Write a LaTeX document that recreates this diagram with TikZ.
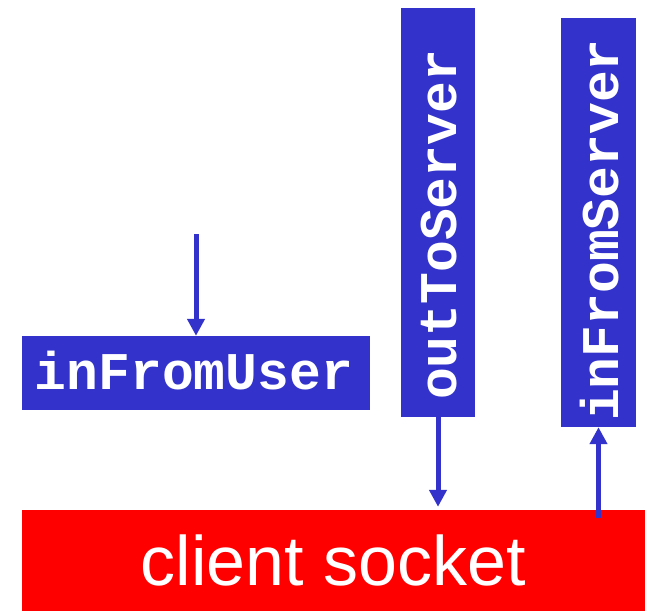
\documentclass[tikz,border=0pt]{standalone}
\usepackage{fontspec}
\setmainfont{Liberation Sans}
\newfontfamily\codefont{Liberation Mono}
\usetikzlibrary{arrows.meta}
\definecolor{sockblue}{HTML}{3333CC}
\definecolor{sockred}{HTML}{FF0000}
\begin{document}
\begin{tikzpicture}[x=1pt,y=-1pt,
  streambox/.style={fill=sockblue, draw=none, inner sep=0pt},
  streamtext/.style={text=white, inner sep=0pt, font=\codefont\bfseries\fontsize{53}{60}\selectfont},
  flow/.style={draw=sockblue, line width=5pt, -{Triangle[width=17pt,length=17pt]}}]
\useasboundingbox (0,0) rectangle (647,611);
% boxes
\node[streambox, minimum width=348pt, minimum height=74pt] (ifu) at (196,373) {};
\node[streamtext] (ifut) at (194,371) {inFromUser};
\node[streambox, minimum width=74pt, minimum height=409pt] (ots) at (438,212.5) {};
\node[streamtext, rotate=90] (otst) at (439,225) {outToServer};
\node[streambox, minimum width=75pt, minimum height=409pt] (ifs) at (598.5,222.5) {};
\node[streamtext, rotate=90] (ifst) at (600,230) {inFromServer};
\node[fill=sockred, inner sep=0pt, minimum width=623pt, minimum height=101pt,
      text=white, font=\fontsize{70}{80}\selectfont] (sock) at (333.5,560.5) {client socket};
% connectors
\coordinate (userin) at (196,234);
\draw[flow] (userin) -- (ifu.north);
\draw[flow, shorten >=3pt] (ots.south) -- (ots.south |- sock.north);
\draw[flow] ([yshift=-8pt]sock.north -| ifs.south) -- (ifs.south);
\end{tikzpicture}
\end{document}
